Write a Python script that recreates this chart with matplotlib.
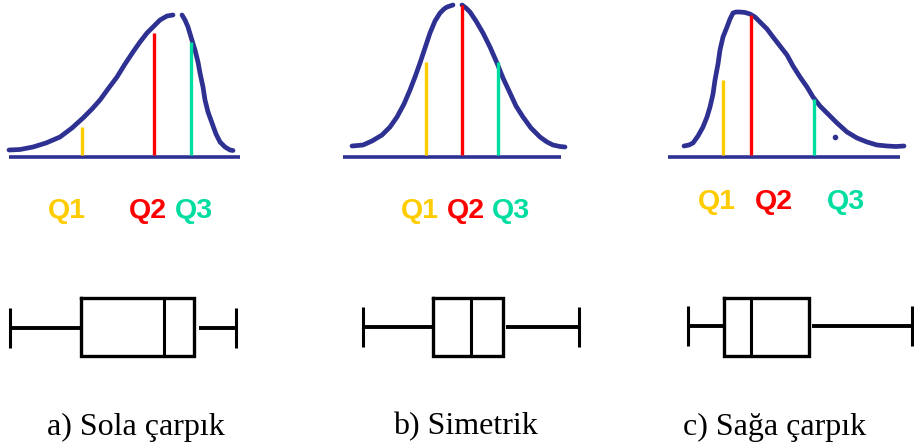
import matplotlib.pyplot as plt

# ---- density curves (pixel coordinates, y grows downward) ----
# a) left skewed: two strokes with a small gap at the peak
a_left_x = [9, 20, 33, 46, 60, 72, 83, 92, 100, 108, 117, 125, 133, 140, 147, 154, 160, 167, 173]
a_left_y = [150, 149.5, 147, 143, 137, 128, 118, 109, 100, 89, 77, 64, 52, 42, 33, 26, 20, 16, 15]
a_right_x = [182, 185, 188, 191, 195, 198, 200, 203, 205, 208, 212, 216, 220, 225, 230, 233]
a_right_y = [15, 20, 27, 37, 50, 62, 73, 87, 100, 112, 123, 134, 142, 147, 150, 150.5]

# b) symmetric
b_left_x = [352, 358, 363, 372, 382, 390, 397, 404, 410, 415, 420, 425, 430, 435, 440, 444, 447, 453]
b_left_y = [146, 145.5, 145, 141, 135, 127, 117, 104, 90, 77, 63, 48, 33, 21, 13, 9, 7, 5]
b_right_x = [462, 466, 470, 476, 483, 490, 497, 503, 510, 516, 523, 531, 540, 547, 553, 560, 565]
b_right_y = [5, 8, 12, 21, 33, 47, 63, 78, 93, 106, 117, 128, 137, 142, 145, 146.5, 147]

# c) right skewed: one stroke
c_x = [684, 689, 693, 698, 703, 707, 710, 713, 715, 718, 720, 723, 727, 730, 733, 736, 740, 745, 750,
       755, 760, 767, 773, 780, 787, 793, 800, 807, 813, 820, 827, 837, 847, 857, 867, 877, 887, 896, 904]
c_y = [146, 145, 143, 136, 127, 117, 107, 94, 80, 64, 50, 37, 27, 19, 13, 12, 12, 12.5, 14,
       17, 22, 29, 37, 46, 55, 66, 77, 87, 97, 106, 113, 123, 132, 138, 142, 145, 146, 146.5, 146]
c_dot = (835, 137)

# baselines: (x_start, x_end, y)
baselines = [(9, 240, 157), (343, 561, 157), (668, 900, 157)]

# quartile markers: x position and top of the line
q_x = [[82, 154, 191], [426, 462, 498], [723, 751, 814]]
q_top = [[127, 33, 42], [62, 5, 62], [80, 15, 99]]
q_names = ['Q1', 'Q2', 'Q3']
q_label_x = [[67, 148, 194], [420, 466, 511], [717, 774, 846]]
q_label_y = [211, 211, 202]

# ---- box plots: whisker min, box left, median, box right, whisker max ----
box_min = [10, 363, 688]
box_q1 = [81, 433, 724]
box_med = [164, 471, 751]
box_q3 = [194, 503, 809]
box_max = [236, 579, 912]
whisker_y = [328, 327, 326]
box_top, box_bottom = 298, 356
cap_half = 20

panel_titles = ['a) Sola çarpık', 'b) Simetrik', 'c) Sağa çarpık']
title_x = [136, 465, 775]

navy = '#2E3192'
q_colors = ['#FFCC00', '#FF0000', '#00DDA0']

fig = plt.figure(figsize=(9.14, 4.48), dpi=100)
ax = fig.add_axes([0, 0, 1, 1])
ax.set_xlim(0, 914)
ax.set_ylim(448, 0)
ax.axis('off')

curve_kw = dict(color=navy, lw=3.4, solid_capstyle='round', solid_joinstyle='round')
for xs, ys in [(a_left_x, a_left_y), (a_right_x, a_right_y),
               (b_left_x, b_left_y), (b_right_x, b_right_y), (c_x, c_y)]:
    ax.plot(xs, ys, **curve_kw)
ax.plot(*c_dot, 'o', color=navy, ms=3)

for (x0, x1, y) in baselines:
    ax.plot([x0, x1], [y, y], color=navy, lw=2.6, solid_capstyle='butt')

for i in range(3):
    for j in range(3):
        ax.plot([q_x[i][j], q_x[i][j]], [q_top[i][j], 155.5], color=q_colors[j], lw=2.4,
                solid_capstyle='butt')
        ax.text(q_label_x[i][j], q_label_y[i], q_names[j], color=q_colors[j],
                fontsize=20.5, fontweight='bold', family='Liberation Sans',
                ha='center', va='center')

# box plots
for i in range(3):
    wy = whisker_y[i]
    ax.plot([box_min[i], box_min[i]], [wy - cap_half, wy + cap_half], color='black', lw=2.2,
            solid_capstyle='butt')
    ax.plot([box_max[i], box_max[i]], [wy - cap_half, wy + cap_half], color='black', lw=2.2,
            solid_capstyle='butt')
    ax.plot([box_min[i], box_q1[i]], [wy, wy], color='black', lw=2.8, solid_capstyle='butt')
    ax.plot([box_q3[i] + (5 if i == 0 else 3), box_max[i]], [wy, wy], color='black', lw=2.8,
            solid_capstyle='butt')
    ax.plot([box_q1[i], box_q3[i], box_q3[i], box_q1[i], box_q1[i]],
            [box_top, box_top, box_bottom, box_bottom, box_top], color='black', lw=2.4,
            solid_joinstyle='miter')
    ax.plot([box_med[i], box_med[i]], [box_top, box_bottom], color='black', lw=2.2)

for t, x in zip(panel_titles, title_x):
    ax.text(x, 427, t, fontsize=23, family='Liberation Serif', ha='center', va='center')

fig.savefig('out.png', dpi=100)
